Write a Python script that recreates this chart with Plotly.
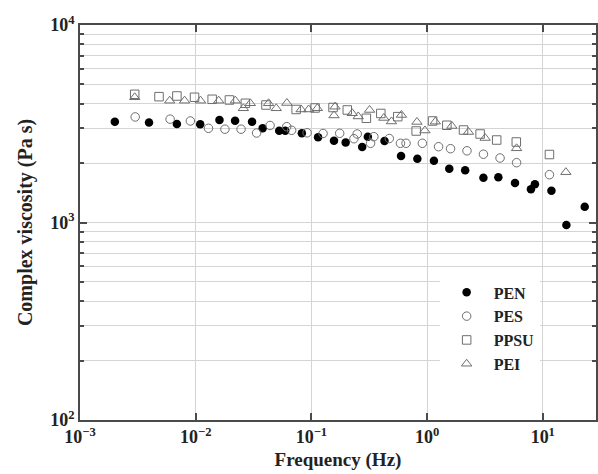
import plotly.graph_objects as go

# ---------------- data ----------------
pen_x = [0.00200, 0.00395, 0.00688, 0.01094, 0.01605, 0.0219, 0.0307, 0.0379, 0.0527, 0.0594,
         0.0827, 0.1142, 0.1568, 0.1978, 0.2749, 0.3077, 0.4285, 0.5955, 0.8241, 1.146,
         1.555, 2.134, 3.069, 4.130, 5.753, 7.899, 8.551, 11.88, 16.0, 23.04]
pen_y = [3240, 3210, 3154, 3143, 3305, 3278, 3240, 2999, 2916, 2916,
         2829, 2700, 2595, 2541, 2412, 2719, 2586, 2171, 2104, 2056,
         1873, 1838, 1686, 1694, 1585, 1473, 1561, 1449, 971, 1202]

pes_x = [0.00300, 0.00601, 0.00899, 0.0129, 0.01789, 0.02467, 0.03361, 0.04393, 0.06116, 0.06752,
         0.09183, 0.1261, 0.1756, 0.2331, 0.2489, 0.3247, 0.3466, 0.4713, 0.5884, 0.6575,
         0.9101, 1.257, 1.595, 2.212, 3.069, 4.272, 5.938, 11.42]
pes_y = [3423, 3336, 3266, 2999, 2968, 2968, 2839, 3099, 3056, 2930,
         2846, 2822, 2829, 2656, 2806, 2518, 2719, 2662, 2518, 2518,
         2518, 2420, 2364, 2307, 2217, 2121, 2008, 1746]

ppsu_x = [0.00297, 0.00482, 0.00688, 0.00977, 0.01388, 0.01956, 0.02687, 0.0405, 0.07384, 0.1076,
          0.1538, 0.2042, 0.2987, 0.3982, 0.5578, 0.8046, 1.116, 1.482, 2.064, 2.874,
          3.996, 5.902, 11.42]
ppsu_y = [4458, 4336, 4371, 4305, 4206, 4172, 4014, 3935, 3735, 3800,
          3822, 3713, 3371, 3565, 3435, 2906, 3266, 3107, 2940, 2806,
          2616, 2556, 2209]

pei_x = [0.00297, 0.00596, 0.00802, 0.01101, 0.01582, 0.0220, 0.02582, 0.02967, 0.04264, 0.04968,
         0.0614, 0.08153, 0.09461, 0.1126, 0.1600, 0.1568, 0.2254, 0.2540, 0.3183, 0.4226,
         0.4923, 0.6002, 0.8175, 0.9583, 1.178, 1.637, 2.279, 3.174, 5.938, 15.84]
pei_y = [4305, 4138, 4138, 4138, 4138, 4138, 3787, 4014, 4014, 3787,
         4028, 3735, 3735, 3787, 3857, 3483, 3573, 3443, 3713, 3383,
         3247, 3503, 3229, 2923, 3240, 3081, 2872, 2678, 2375, 1798]

x_tickvals = [0.001, 0.01, 0.1, 1, 10]
x_ticktext = ["10<sup>−3</sup>", "10<sup>−2</sup>", "10<sup>−1</sup>", "10<sup>0</sup>", "10<sup>1</sup>"]
y_tickvals = [100, 1000, 10000]
y_ticktext = ["10<sup>2</sup>", "10<sup>3</sup>", "10<sup>4</sup>"]
y_minor = [m * d for d in (100, 1000) for m in range(2, 10)]

FONT = "Liberation Serif"
GRID = "#d4d4d4"
AXC = "#4a4a4a"
MK = "#6e6e6e"
TXT = "#222"

fig = go.Figure()
fig.add_trace(go.Scatter(x=pen_x, y=pen_y, mode="markers", name="PEN",
                         marker=dict(symbol="circle", size=8.5, color="black")))
fig.add_trace(go.Scatter(x=pes_x, y=pes_y, mode="markers", name="PES",
                         marker=dict(symbol="circle-open", size=8.5, color=MK, line=dict(width=1))))
fig.add_trace(go.Scatter(x=ppsu_x, y=ppsu_y, mode="markers", name="PPSU",
                         marker=dict(symbol="square-open", size=8.5, color=MK, line=dict(width=1))))
fig.add_trace(go.Scatter(x=pei_x, y=pei_y, mode="markers", name="PEI",
                         marker=dict(symbol="triangle-up-open", size=9, color=MK, line=dict(width=1))))

fig.update_layout(
    width=598, height=474,
    margin=dict(l=80, r=0, t=25, b=54),
    paper_bgcolor="white", plot_bgcolor="white",
    font=dict(family=FONT, size=16, color=TXT, weight="bold"),
    showlegend=True,
    legend=dict(x=0.697, y=0.366, xanchor="left", yanchor="top",
                bgcolor="white", borderwidth=0,
                font=dict(family=FONT, size=16, color=TXT, weight="bold"),
                itemwidth=44),
    xaxis=dict(type="log", range=[-3, 1.46],
               tickmode="array", tickvals=x_tickvals, ticktext=x_ticktext,
               ticks="inside", ticklen=7, tickwidth=1.5, tickcolor=AXC,
               showline=True, linecolor=AXC, linewidth=1.5, mirror="ticks",
               showgrid=True, gridcolor=GRID, gridwidth=1, zeroline=False,
               tickfont=dict(family=FONT, size=18, color=TXT, weight="bold"),
               title=dict(text="Frequency (Hz)", standoff=6,
                          font=dict(family=FONT, size=19, color=TXT, weight="bold"))),
    yaxis=dict(type="log", range=[2, 4],
               tickmode="array", tickvals=y_tickvals, ticktext=y_ticktext,
               ticks="inside", ticklen=7, tickwidth=1.5, tickcolor=AXC,
               showline=True, linecolor=AXC, linewidth=1.5, mirror="ticks",
               showgrid=True, gridcolor=GRID, gridwidth=1, zeroline=False,
               minor=dict(tickmode="array", tickvals=y_minor, ticks="inside", ticklen=4,
                          tickcolor=AXC, showgrid=True, gridcolor=GRID, gridwidth=1),
               tickfont=dict(family=FONT, size=18, color=TXT, weight="bold"),
               title=dict(text="Complex viscosity (Pa s)", standoff=12,
                          font=dict(family=FONT, size=20, color=TXT, weight="bold"))),
)

fig.write_html("out.html")
